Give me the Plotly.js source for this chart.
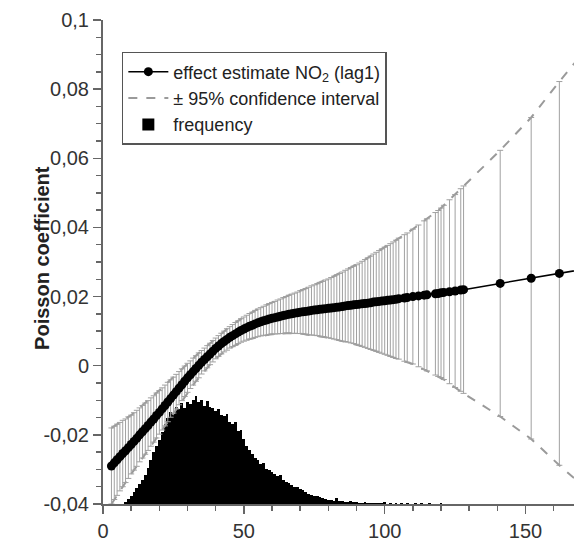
<!DOCTYPE html>
<html>
<head>
<meta charset="utf-8">
<script src="https://cdn.plot.ly/plotly-3.0.1.min.js"></script>
<style>html,body{margin:0;padding:0;background:#fff;}#chart{width:574px;height:546px;}</style>
</head>
<body>
<div id="chart"></div>
<script>
// NO2 concentration levels (x) with effect estimates
const no2 = [3,4,5,6,7,8,9,10,11,12,13,14,15,16,17,18,19,20,21,22,23,24,25,26,27,28,29,30,31,32,33,34,35,36,37,38,39,40,41,42,43,44,45,46,47,48,49,50,51,52,53,54,55,56,57,58,59,60,61,62,63,64,65,66,67,68,69,70,71,72,73,74,75,76,77,78,79,80,81,82,83,84,85,86,87,88,89,90,91,92,93,94,95,96,97,98,99,100,101,102,103,104,105,107,108,110,112,114,115,118,119,120,121,123,125,127,128,141,152,162,172];

const effect = [-0.0290,-0.0281,-0.0272,-0.0263,-0.0254,-0.0246,-0.0237,-0.0228,-0.0219,-0.0210,-0.0200,-0.0191,-0.0182,-0.0173,-0.0163,-0.0154,-0.0144,-0.0135,-0.0125,-0.0115,-0.0105,-0.0095,-0.0085,-0.0075,-0.0065,-0.0055,-0.0045,-0.0035,-0.0026,-0.0017,-0.0008,0.0001,0.0010,0.0018,0.0026,0.0034,0.0042,0.0050,0.0057,0.0064,0.0070,0.0076,0.0082,0.0087,0.0092,0.0097,0.0102,0.0106,0.0110,0.0114,0.0117,0.0121,0.0124,0.0127,0.0130,0.0132,0.0135,0.0137,0.0139,0.0141,0.0143,0.0145,0.0147,0.0149,0.0150,0.0152,0.0153,0.0155,0.0156,0.0157,0.0158,0.0160,0.0161,0.0162,0.0163,0.0164,0.0165,0.0166,0.0167,0.0168,0.0169,0.0170,0.0171,0.0173,0.0174,0.0175,0.0176,0.0177,0.0178,0.0179,0.0180,0.0181,0.0182,0.0184,0.0185,0.0186,0.0187,0.0188,0.0189,0.0190,0.0191,0.0192,0.0194,0.0196,0.0197,0.0200,0.0202,0.0204,0.0205,0.0208,0.0209,0.0211,0.0212,0.0214,0.0216,0.0219,0.0220,0.0238,0.0253,0.0267,0.0281];

// half-width of the 95% confidence interval
const ci95 = [0.0110,0.0106,0.0103,0.0099,0.0096,0.0092,0.0089,0.0085,0.0083,0.0081,0.0078,0.0076,0.0074,0.0072,0.0070,0.0067,0.0065,0.0063,0.0061,0.0059,0.0057,0.0054,0.0052,0.0050,0.0048,0.0046,0.0044,0.0042,0.0040,0.0039,0.0037,0.0036,0.0034,0.0033,0.0032,0.0031,0.0031,0.0030,0.0030,0.0030,0.0030,0.0031,0.0031,0.0032,0.0033,0.0033,0.0034,0.0035,0.0036,0.0037,0.0038,0.0039,0.0040,0.0041,0.0042,0.0044,0.0045,0.0046,0.0047,0.0049,0.0050,0.0052,0.0053,0.0055,0.0057,0.0058,0.0060,0.0062,0.0064,0.0066,0.0069,0.0071,0.0073,0.0075,0.0078,0.0080,0.0083,0.0085,0.0088,0.0091,0.0094,0.0097,0.0100,0.0103,0.0106,0.0109,0.0112,0.0115,0.0119,0.0123,0.0127,0.0131,0.0135,0.0139,0.0143,0.0147,0.0151,0.0155,0.0159,0.0163,0.0167,0.0171,0.0175,0.0183,0.0187,0.0195,0.0205,0.0215,0.0220,0.0235,0.0240,0.0245,0.0252,0.0266,0.0279,0.0293,0.0300,0.0385,0.0465,0.0555,0.0640];

// frequency histogram
const freqX = [8,9,10,11,12,13,14,15,16,17,18,19,20,21,22,23,24,25,26,27,28,29,30,31,32,33,34,35,36,37,38,39,40,41,42,43,44,45,46,47,48,49,50,51,52,53,54,55,56,57,58,59,60,61,62,63,64,65,66,67,68,69,70,71,72,73,74,75,76,77,78,79,80,81,82,83,84,85,86,87,88,89,90,91,92,93,94,95,96,97,98,99,100,102,104,106,108,111,113,116,120];
const freq = [2,5,8,12,16,20,24,29,36,44,52,58,64,72,80,86,92,90,97,95,101,96,102,100,104,108,102,104,98,103,97,96,93,95,89,88,90,82,80,82,73,74,65,58,54,50,46,44,40,41,35,34,32,30,28,29,24,22,21,19,17,17,15,14,12,10,9,8,8,7,6,5,4,4,3,6,3,3,2,2,3,2,2,1,1,2,1,1,1,1,1,1,2,1,1,1,1,1,1,1,1];

const xTickVals = [0,50,100,150];
const xTickText = ["0","50","100","150"];
const yTickVals = [-0.04,-0.02,0,0.02,0.04,0.06,0.08,0.1];
const yTickText = ["-0,04","-0,02","0","0,02","0,04","0,06","0,08","0,1"];

const ciX = no2.concat([null], no2);
const ciY = effect.map((v,i)=>v+ci95[i]).concat([null], effect.map((v,i)=>v-ci95[i]));

const narrow = "Liberation Sans Narrow, Arial Narrow, Liberation Sans, Arial, sans-serif";
const axisCol = "#666";

const traces = [
  {type:"bar", x:freqX, y:freq, yaxis:"y", xaxis:"x", name:"frequency",
   marker:{color:"#000", line:{width:0}}, width:1, legendrank:3, hoverinfo:"skip"},
  {type:"scatter", mode:"lines", x:ciX, y:ciY, yaxis:"y2", name:"± 95% confidence interval",
   line:{color:"#9a9a9a", width:2, dash:"dash"}, connectgaps:false, legendrank:2, hoverinfo:"skip"},
  {type:"scatter", mode:"lines+markers", x:no2, y:effect, yaxis:"y2", name:"effect estimate NO<sub>2</sub> (lag1)",
   line:{color:"#000", width:1.5}, marker:{color:"#000", size:9},
   error_y:{type:"data", array:ci95, symmetric:true, color:"#a0a0a0", thickness:1, width:3},
   legendrank:1, hoverinfo:"skip"}
];

const layout = {
  width:574, height:546,
  margin:{l:103, r:0, t:20, b:42},
  paper_bgcolor:"#fff", plot_bgcolor:"#fff",
  bargap:0,
  showlegend:true,
  legend:{x:0.04, y:0.934, xanchor:"left", yanchor:"top", bgcolor:"#fff",
          bordercolor:"#555", borderwidth:1.5, tracegroupgap:2, itemwidth:40,
          font:{family:narrow, size:18, color:"#222"}},
  xaxis:{range:[0,167.2], showline:true, linecolor:axisCol, linewidth:2,
         ticks:"outside", ticklen:8, tickwidth:1.5, tickcolor:axisCol,
         tickmode:"array", tickvals:xTickVals, ticktext:xTickText,
         minor:{tickmode:"linear", tick0:0, dtick:10, ticklen:5, tickwidth:1.5, tickcolor:axisCol, showgrid:false},
         showgrid:false, zeroline:false,
         tickfont:{family:narrow, size:20, color:"#333"}},
  yaxis:{range:[0,484], visible:false, fixedrange:true},
  yaxis2:{overlaying:"y", side:"left", range:[-0.04,0.1], showline:true, linecolor:axisCol, linewidth:2,
          ticks:"outside", ticklen:8, tickwidth:1.5, tickcolor:axisCol,
          tickmode:"array", tickvals:yTickVals, ticktext:yTickText,
          minor:{tickmode:"linear", tick0:0, dtick:0.005, ticklen:5, tickwidth:1.5, tickcolor:axisCol, showgrid:false},
          showgrid:false, zeroline:false,
          tickfont:{family:narrow, size:20, color:"#333"}},
  annotations:[{text:"<b>Poisson coefficient</b>", xref:"paper", yref:"paper",
                x:-0.13, y:0.508, xanchor:"center", yanchor:"middle", textangle:-90, showarrow:false,
                font:{family:"Liberation Sans, Arial, sans-serif", size:20, color:"#222"}}]
};

Plotly.newPlot("chart", traces, layout, {staticPlot:true});
</script>
</body>
</html>
